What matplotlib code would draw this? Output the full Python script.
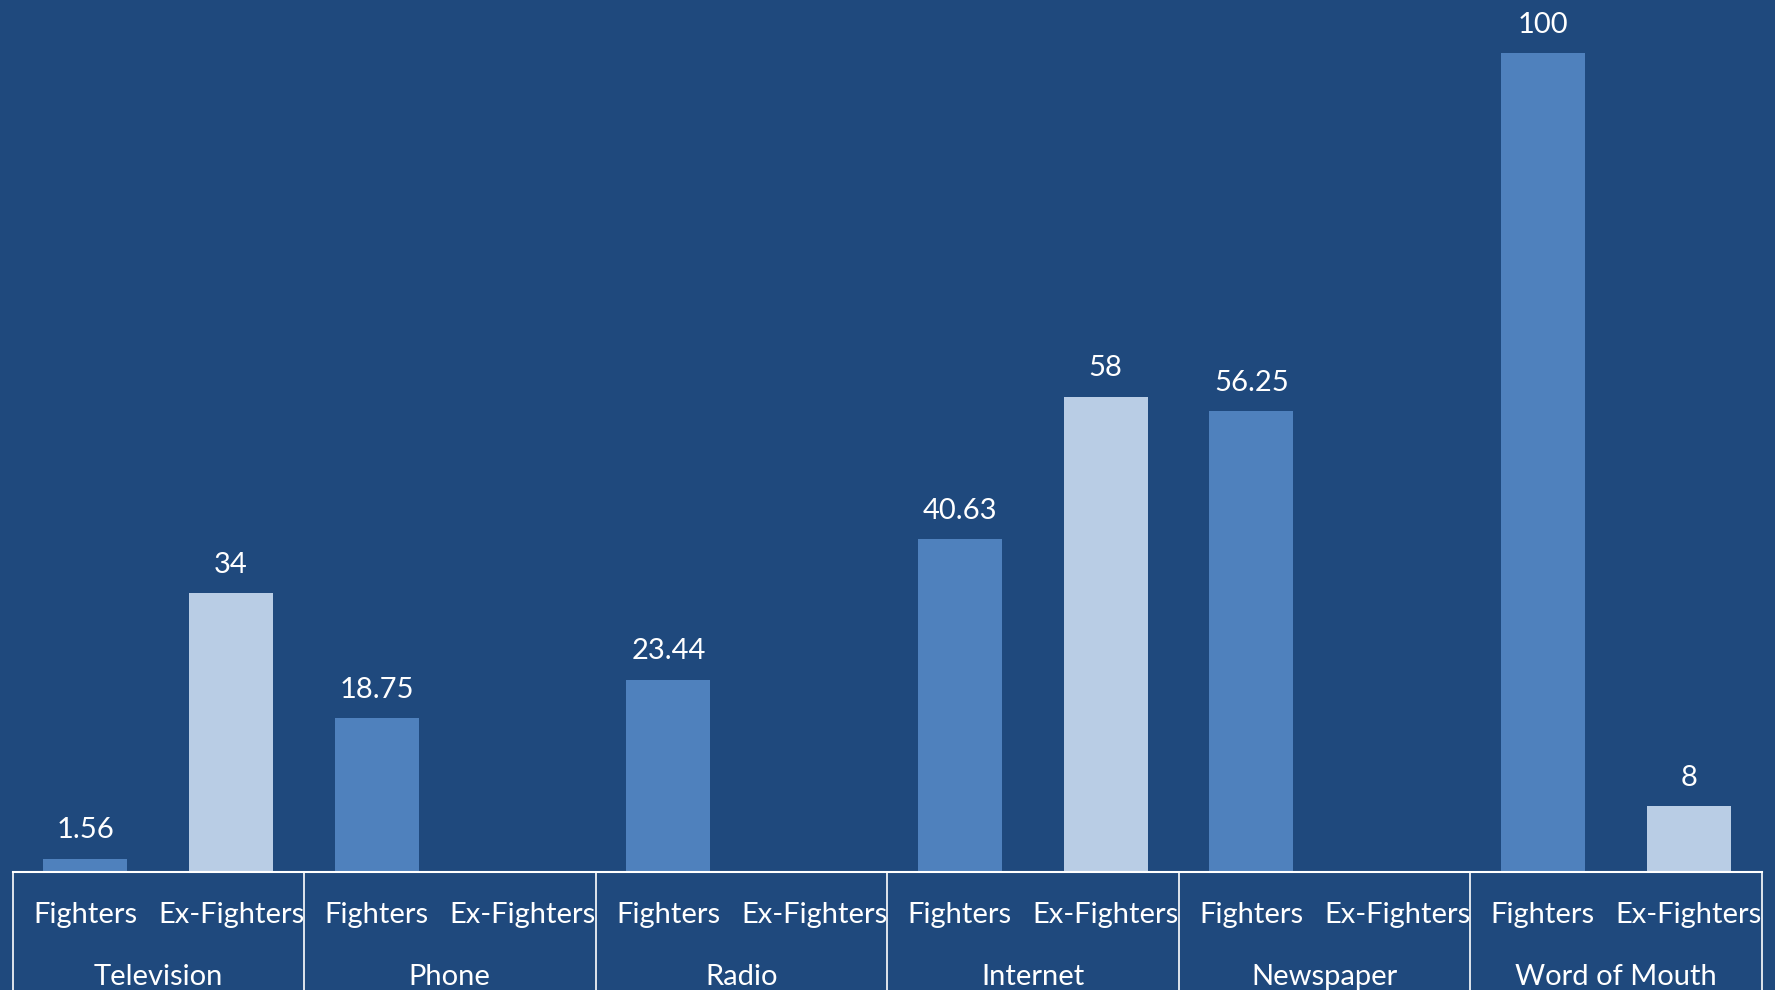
import numpy as np
import matplotlib.pyplot as plt
import matplotlib.transforms as mtransforms

# data
categories = ['Television', 'Phone', 'Radio', 'Internet', 'Newspaper', 'Word of Mouth']
groups = ['Fighters', 'Ex-Fighters']
fighters = [1.56, 18.75, 23.44, 40.63, 56.25, 100]
ex_fighters = [34, None, None, 58, None, 8]

bg = '#1F497D'
c_fight = '#4F81BD'
c_ex = '#B9CDE5'

plt.rcParams['font.family'] = ['Lato', 'DejaVu Sans']

fig = plt.figure(figsize=(17.75, 9.9), dpi=100)
fig.patch.set_facecolor(bg)
W, H = 1775, 990
base_px = 871.6
ax = fig.add_axes([12.5 / W, (H - base_px) / H, (1761.5 - 12.5) / W, base_px / H])
ax.set_facecolor(bg)

n = len(categories)
x_f = np.arange(n) * 2
x_e = x_f + 1
bw = 0.575

ax.bar(x_f, fighters, width=bw, color=c_fight)
ex_vals = [np.nan if v is None else v for v in ex_fighters]
ax.bar(x_e, ex_vals, width=bw, color=c_ex)

def label(x, v):
    if v is None:
        return
    ax.annotate(f'{v:g}', (x, v), xytext=(0, 20.5), textcoords='offset points',
                ha='center', va='center', color='white', fontsize=21)

for i in range(n):
    label(x_f[i], fighters[i])
    label(x_e[i], ex_fighters[i])

ax.set_xlim(-0.5, 2 * n - 0.5)
ax.set_ylim(0, 106.5)
ax.set_xticks([])
ax.set_yticks([])
for s in ['top', 'right', 'left']:
    ax.spines[s].set_visible(False)
ax.spines['bottom'].set_color('white')
ax.spines['bottom'].set_linewidth(1.5)

trans = mtransforms.blended_transform_factory(ax.transData, ax.transAxes)
for b in np.arange(0, 2 * n + 1, 2) - 0.5:
    ax.plot([b, b], [0, -0.2], color='white', lw=1.2, transform=trans, clip_on=False)

sub_y = -(915.5 - base_px) / base_px
cat_y = -(977 - base_px) / base_px
for i, cat in enumerate(categories):
    ax.text(x_f[i], sub_y, groups[0], transform=trans, ha='center', va='center',
            color='white', fontsize=21)
    ax.text(x_e[i], sub_y, groups[1], transform=trans, ha='center', va='center',
            color='white', fontsize=21)
    ax.text(x_f[i] + 0.5, cat_y, cat, transform=trans, ha='center', va='center',
            color='white', fontsize=21)

plt.savefig('out.png', dpi=100, facecolor=bg)
